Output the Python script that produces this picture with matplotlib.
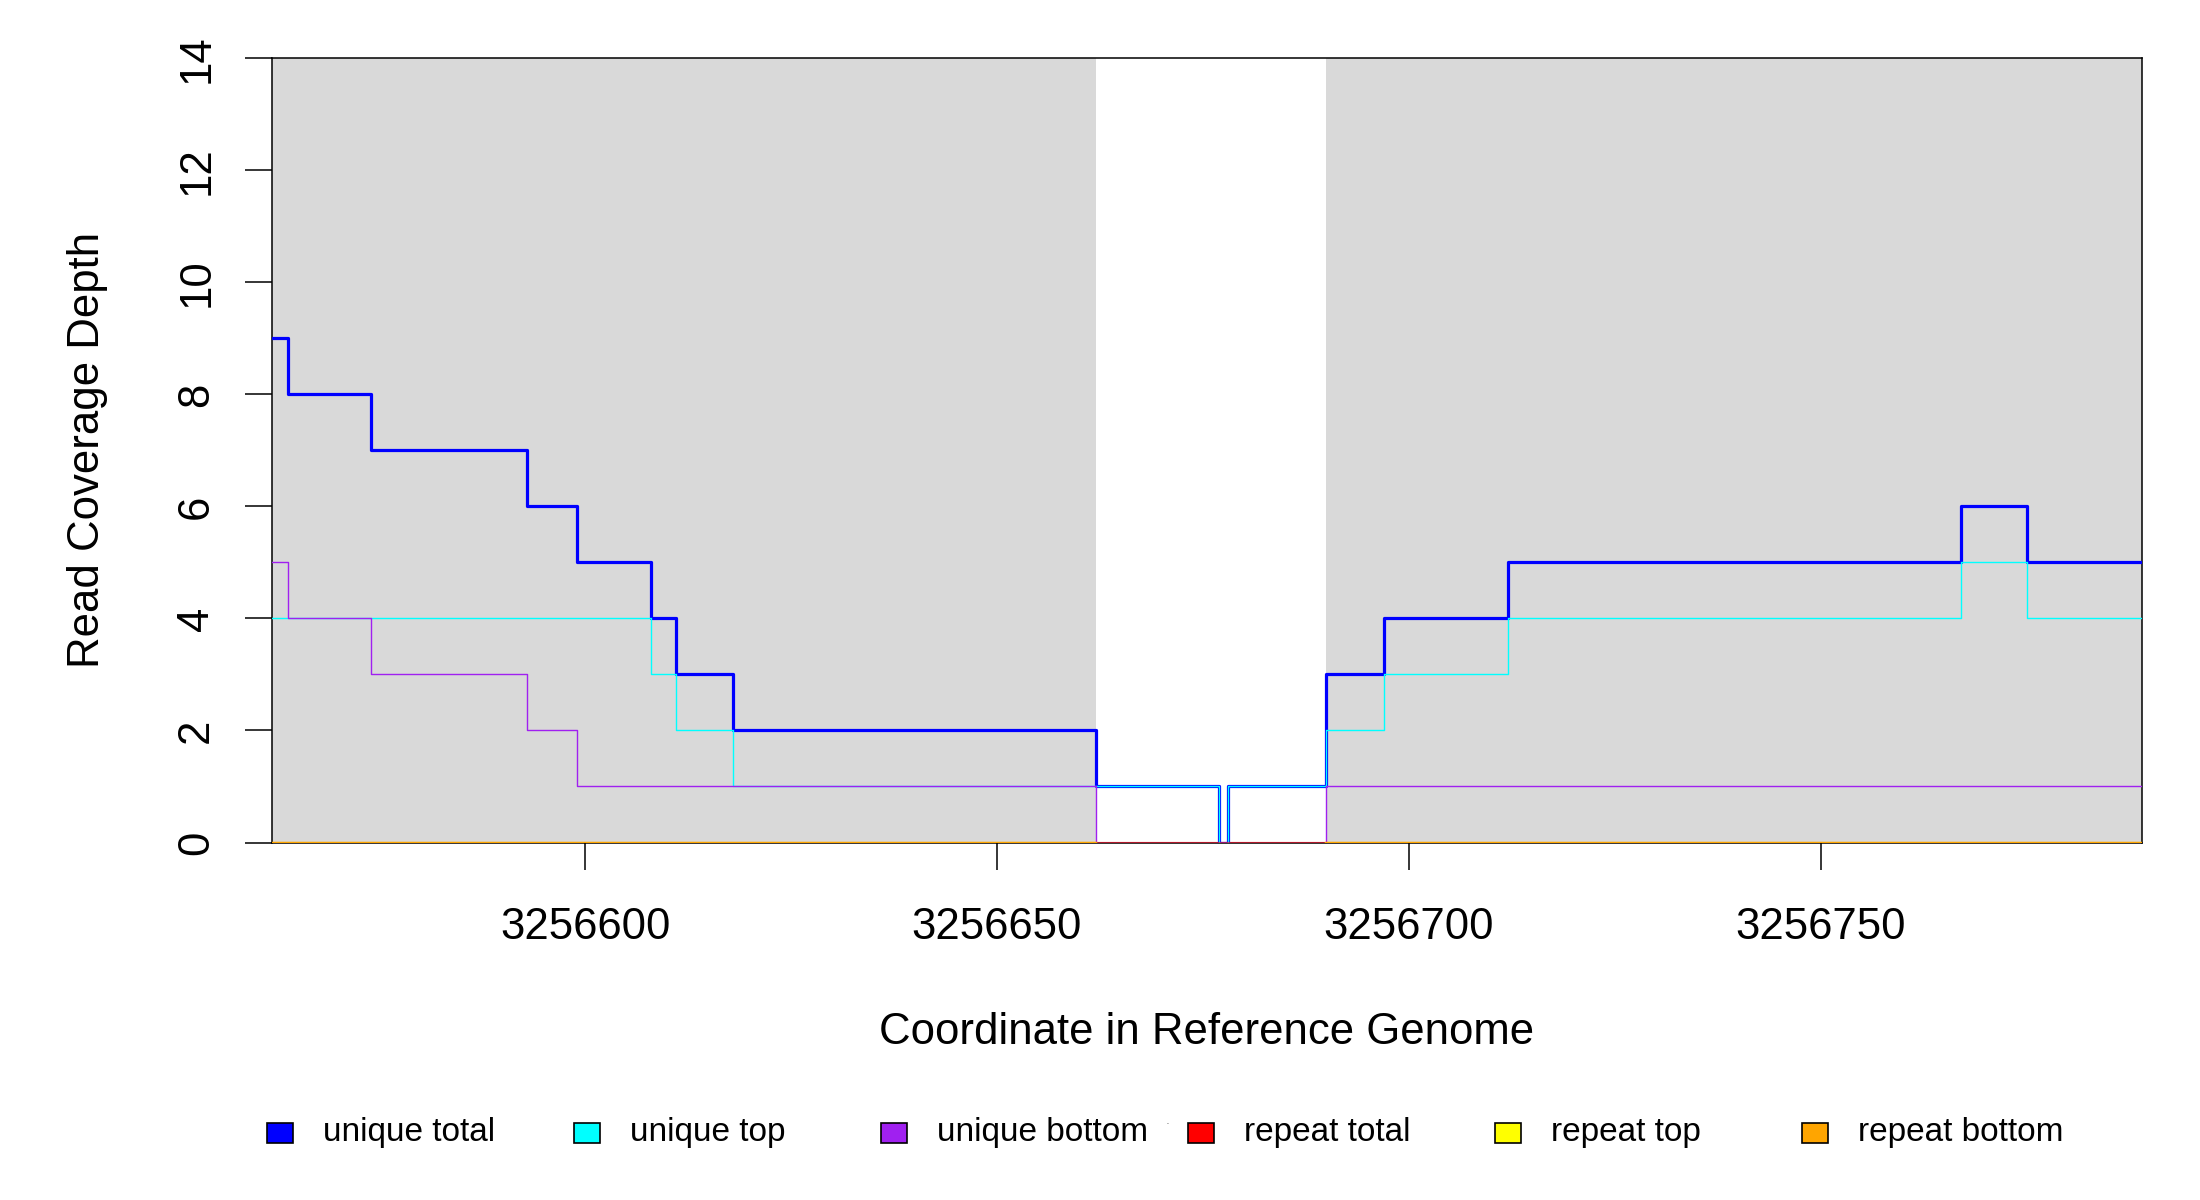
import numpy as np
import matplotlib
matplotlib.use("Agg")
from matplotlib import pyplot as plt
from matplotlib.patches import Rectangle

plt.rcParams['font.family'] = ['Liberation Sans', 'DejaVu Sans']

# step breakpoints (coverage changes), last value is the right end of the window
breaks = [3256562, 3256564, 3256574, 3256593, 3256599, 3256608, 3256611, 3256618,
          3256662, 3256677, 3256678, 3256690, 3256697, 3256712, 3256767, 3256775, 3256789]
unique_total = [9, 8, 7, 6, 5, 4, 3, 2, 1, 0, 1, 3, 4, 5, 6, 5]
unique_top = [4, 4, 4, 4, 4, 3, 2, 1, 1, 0, 1, 2, 3, 4, 5, 4]
unique_bottom = [5, 4, 3, 2, 1, 1, 1, 1, 0, 0, 0, 1, 1, 1, 1, 1]
nan = np.nan
repeat_total = [0, 0, 0, 0, 0, 0, 0, 0, 0, 0, 0, 0, 0, 0, 0, 0]
repeat_top = [0, 0, 0, 0, 0, 0, 0, 0, nan, nan, nan, 0, 0, 0, 0, 0]
repeat_bottom = [0, 0, 0, 0, 0, 0, 0, 0, nan, nan, nan, 0, 0, 0, 0, 0]

# shaded (grey) regions
shade_start = [3256562, 3256690]
shade_end = [3256662, 3256789]

xticks = [3256600, 3256650, 3256700, 3256750]
yticks = [0, 2, 4, 6, 8, 10, 12, 14]

labels = ['unique total', 'unique top', 'unique bottom', 'repeat total', 'repeat top', 'repeat bottom']
colors = ['#0000FF', '#00FFFF', '#A020F0', '#FF0000', '#FFFF00', '#FFA500']
series = [unique_total, unique_top, unique_bottom, repeat_total, repeat_top, repeat_bottom]
widths = [2.3, 1.0, 1.0, 1.6, 1.6, 1.6]
alphas = [1, 1, 1, 0.55, 1, 1]

W, H = 2200, 1200
fig = plt.figure(figsize=(22, 12), dpi=100)
ax = fig.add_axes([272 / W, 1 - 842.5 / H, (2142 - 272) / W, (842.5 - 58.3) / H])

for s, e in zip(shade_start, shade_end):
    ax.axvspan(s, e, color='#D9D9D9', lw=0, zorder=0)

for vals, c, lw, a in zip(series, colors, widths, alphas):
    y = list(vals) + [vals[-1]]
    ax.step(breaks, y, where='post', color=c, lw=lw, alpha=a, zorder=4)

ax.set_xlim(breaks[0], breaks[-1])
ax.set_ylim(0, 14)
ax.set_xticks(xticks)
ax.set_xticklabels([str(t) for t in xticks])
ax.set_yticks(yticks)
ax.set_yticklabels([str(t) for t in yticks], rotation=90, va='center')
ax.tick_params(axis='both', labelsize=31.5, length=19.5, width=1.1, direction='out')
ax.tick_params(axis='x', pad=27)
ax.tick_params(axis='y', pad=20)
for sp in ax.spines.values():
    sp.set_linewidth(1.1)
    sp.set_zorder(3)

ax.set_xlabel('Coordinate in Reference Genome', fontsize=31.5)
ax.xaxis.set_label_coords(0.5, (842.5 - 1032) / (842.5 - 58.3))
ax.xaxis.label.set_va('center')
ax.set_ylabel('Read Coverage Depth', fontsize=31.5)
ax.yaxis.set_label_coords((88 - 272) / (2142 - 272), 0.5)
ax.yaxis.label.set_ha('center')
ax.yaxis.label.set_va('center')

# horizontal legend with equal spacing
for i, (lab, c) in enumerate(zip(labels, colors)):
    cx = 280 + 307 * i
    fig.patches.append(Rectangle(((cx - 13) / W, 1 - 1143 / H), 26 / W, 20 / H,
                                 transform=fig.transFigure, facecolor=c,
                                 edgecolor='black', lw=1.2))
    fig.text((cx + 43) / W, 1 - 1133 / H, lab, fontsize=24, ha='left', va='center')
fig.text(1167 / W, 1 - 1122 / H, '.', fontsize=5, ha='center', va='center')

fig.savefig('out.png', dpi=100)
